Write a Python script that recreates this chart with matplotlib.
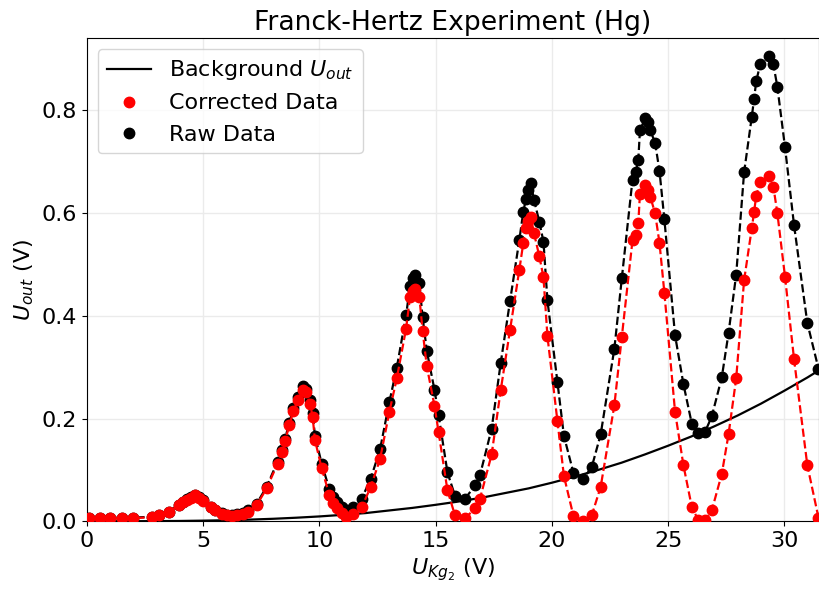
import matplotlib
matplotlib.use('Agg')
import matplotlib.pyplot as plt

plt.rcParams['font.size'] = 16

# accelerating voltage U_Kg2 (V)
u_kg2 = [0.1, 0.55, 1.0, 1.5, 2.0, 2.82, 3.11, 3.51, 3.94, 4.14, 4.29, 4.46, 4.65, 4.83, 5.0,
         5.32, 5.51, 5.79, 6.01, 6.23, 6.44, 6.70, 6.94, 7.30, 7.73, 8.20, 8.40, 8.52, 8.71, 8.88,
         9.09, 9.31, 9.42, 9.60, 9.71, 9.81, 10.10, 10.43, 10.60, 10.74, 10.96, 11.14, 11.46, 11.82,
         12.21, 12.61, 13.01, 13.33, 13.73, 13.90, 14.03, 14.13, 14.30, 14.44, 14.62, 14.95, 15.13,
         15.51, 15.83, 16.27, 16.70, 16.91, 17.41, 17.80, 18.20, 18.60, 18.77, 18.89, 18.99, 19.09,
         19.23, 19.46, 19.64, 19.81, 20.24, 20.52, 20.93, 21.36, 21.72, 22.10, 22.69, 23.01, 23.47,
         23.61, 23.72, 23.79, 24.01, 24.15, 24.23, 24.44, 24.63, 24.84, 25.30, 25.66, 26.02, 26.30,
         26.59, 26.88, 27.31, 27.60, 27.93, 28.27, 28.60, 28.70, 28.79, 28.96, 29.32, 29.53, 29.70,
         30.03, 30.42, 30.99, 31.47]

u_raw = [0.007, 0.007, 0.007, 0.007, 0.007, 0.009, 0.013, 0.018, 0.032, 0.038, 0.043, 0.047, 0.052, 0.047, 0.041,
         0.028, 0.022, 0.016, 0.013, 0.012, 0.014, 0.017, 0.021, 0.034, 0.067, 0.116, 0.139, 0.160, 0.192, 0.220,
         0.242, 0.263, 0.258, 0.236, 0.210, 0.166, 0.112, 0.062, 0.048, 0.038, 0.028, 0.022, 0.028, 0.044,
         0.083, 0.140, 0.232, 0.299, 0.401, 0.458, 0.474, 0.479, 0.463, 0.397, 0.332, 0.256, 0.206,
         0.095, 0.050, 0.044, 0.070, 0.090, 0.180, 0.308, 0.428, 0.547, 0.602, 0.628, 0.645, 0.659,
         0.626, 0.583, 0.544, 0.430, 0.271, 0.166, 0.094, 0.083, 0.106, 0.169, 0.336, 0.473, 0.665,
         0.680, 0.704, 0.761, 0.784, 0.778, 0.761, 0.737, 0.682, 0.588, 0.362, 0.267, 0.190, 0.172,
         0.174, 0.204, 0.280, 0.366, 0.480, 0.679, 0.787, 0.822, 0.856, 0.889, 0.906, 0.889, 0.846,
         0.728, 0.576, 0.386, 0.297]

u_corr = [0.006, 0.006, 0.006, 0.006, 0.006, 0.008, 0.013, 0.018, 0.031, 0.037, 0.042, 0.046, 0.051, 0.046, 0.040,
          0.027, 0.021, 0.015, 0.012, 0.011, 0.012, 0.015, 0.018, 0.031, 0.064, 0.112, 0.135, 0.156, 0.187, 0.215,
          0.236, 0.256, 0.251, 0.229, 0.203, 0.158, 0.103, 0.051, 0.036, 0.026, 0.016, 0.009, 0.015, 0.027,
          0.067, 0.121, 0.213, 0.278, 0.375, 0.437, 0.448, 0.453, 0.437, 0.371, 0.302, 0.225, 0.173,
          0.060, 0.012, 0.006, 0.025, 0.044, 0.130, 0.255, 0.372, 0.489, 0.541, 0.570, 0.585, 0.593,
          0.561, 0.516, 0.475, 0.360, 0.195, 0.088, 0.010, 0.0, 0.012, 0.067, 0.226, 0.359, 0.547,
          0.557, 0.581, 0.637, 0.654, 0.645, 0.632, 0.600, 0.542, 0.445, 0.213, 0.109, 0.028, 0.002,
          0.002, 0.021, 0.092, 0.169, 0.278, 0.469, 0.570, 0.602, 0.633, 0.661, 0.672, 0.651, 0.600,
          0.476, 0.315, 0.109, 0.007]

# background curve
bg_x = [0, 1, 2, 3, 4, 5, 6, 7, 8, 9, 10, 11, 12, 13, 14, 15, 16, 17, 18, 19, 20,
        21, 22, 23, 24, 25, 26, 27, 28, 29, 30, 31, 31.5]
bg_y = [0.0, 0.0, 0.0001, 0.0003, 0.0006, 0.0012, 0.002, 0.0032, 0.0048, 0.0069, 0.0094,
        0.0125, 0.016, 0.021, 0.026, 0.032, 0.0385, 0.046, 0.055, 0.064, 0.075, 0.087, 0.1,
        0.114, 0.13, 0.147, 0.165, 0.185, 0.206, 0.229, 0.254, 0.28, 0.294]

fig, ax = plt.subplots(figsize=(8.2, 5.89), dpi=100)
fig.subplots_adjust(left=0.106, right=0.999, bottom=0.115, top=0.935)

ax.grid(True, color='#ebebeb', lw=1)
ax.set_axisbelow(True)

bg_line, = ax.plot(bg_x, bg_y, color='k', lw=1.6, label='Background $U_{out}$', zorder=3)
ax.plot(u_kg2, u_raw, 'k--', lw=1.6, zorder=2)
raw_pts, = ax.plot(u_kg2, u_raw, 'o', color='k', ms=7.5, ls='none', label='Raw Data', zorder=2)
ax.plot(u_kg2, u_corr, '--', color='red', lw=1.6, zorder=4)
corr_pts, = ax.plot(u_kg2, u_corr, 'o', color='red', ms=7.5, ls='none', label='Corrected Data', zorder=4)

ax.set_xlim(0, 31.5)
ax.set_ylim(0, 0.94)
ax.set_yticks([0.0, 0.2, 0.4, 0.6, 0.8])
ax.set_xlabel('$U_{Kg_2}$ (V)')
ax.set_ylabel('$U_{out}$ (V)')
ax.set_title('Franck-Hertz Experiment (Hg)', fontsize=19.2)
ax.legend(handles=[bg_line, corr_pts, raw_pts], loc='upper left')

fig.savefig('out.png')
